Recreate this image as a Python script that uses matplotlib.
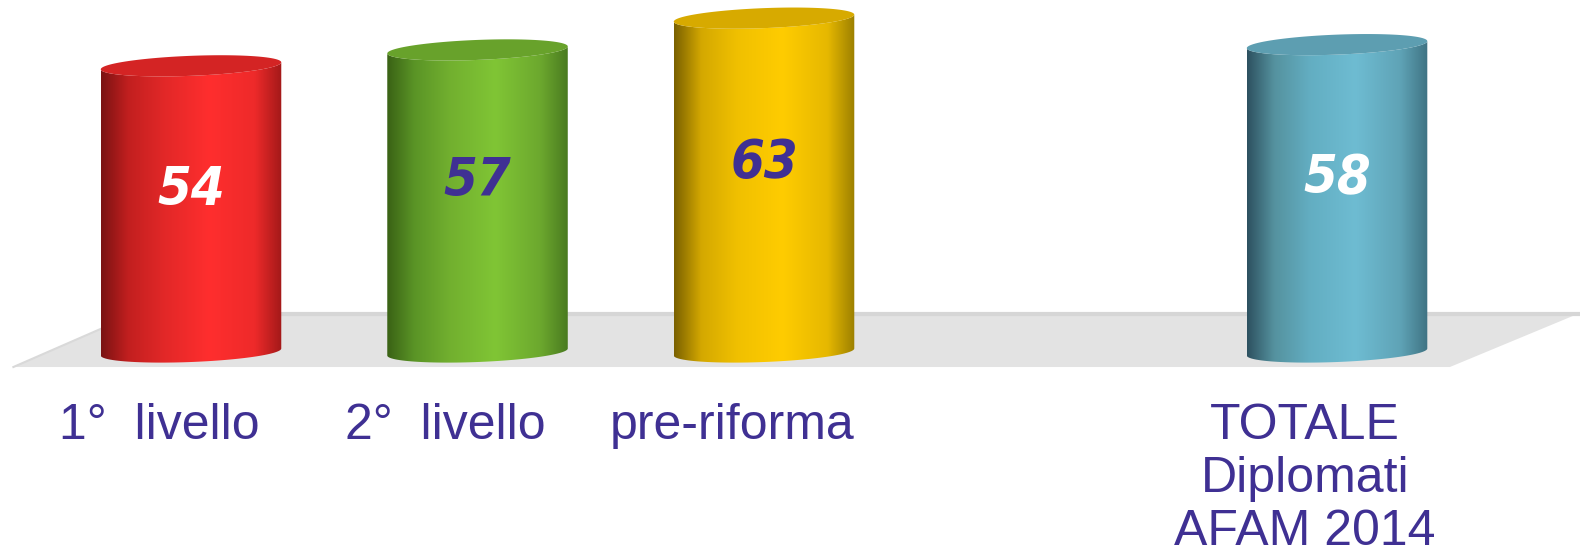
import numpy as np
import matplotlib
matplotlib.use("Agg")
import matplotlib.pyplot as plt
from matplotlib.patches import Polygon
from matplotlib.colors import LinearSegmentedColormap

# chart data
categories = ["1°  livello", "2°  livello", "pre-riforma", "TOTALE\nDiplomati\nAFAM 2014"]
values = [54, 57, 63, 58]
positions = [0, 1, 2, 4]

# colours: gradient stops across each cylinder (dark edge -> highlight -> dark edge)
body_stops = [
    ["#7a1313", "#c21f1f", "#e22828", "#ff2e2e", "#ee2a2a", "#a31919"],
    ["#3a6215", "#5a9426", "#72b02f", "#80c535", "#6ca82e", "#4a7b20"],
    ["#7a6100", "#d4a800", "#f0c000", "#ffcc00", "#e6b800", "#9c8000"],
    ["#2d5160", "#55929f", "#63aec2", "#6ebcd2", "#5fa3b6", "#3f7383"],
]
top_colors = ["#d42424", "#68a22b", "#d7aa00", "#5d9eb1"]
value_colors = ["white", "#3f3093", "#3f3093", "white"]
label_color = "#3f3093"

W_PX, H_PX = 1580, 556
fig = plt.figure(figsize=(W_PX / 100, H_PX / 100), dpi=100)
ax = fig.add_axes([0, 0, 1, 1])
ax.set_xlim(-0.6667, 4.848)
ax.set_ylim(-38.49, 66.42)
ax.axis("off")

# pixel -> data scale factors
x0, x1 = ax.get_xlim()
y0, y1 = ax.get_ylim()
sx = W_PX / (x1 - x0)
sy = H_PX / (y1 - y0)

bar_w = 0.63
half_px = bar_w * sx / 2
ell_b = 10.0      # ellipse semi-height in px
shear = -3.5 / half_px   # left side sits a bit lower than right

# floor (perspective platform)
floor = Polygon([(-0.62, -2.83), (4.394, -2.83), (4.848, 7.36), (-0.188, 7.36)],
                closed=True, facecolor="#e3e3e3", edgecolor="none", zorder=1)
ax.add_patch(floor)
ax.plot([-0.188, 4.848], [7.2, 7.2], color="#d6d6d6", lw=3, zorder=1.5)
ax.plot([-0.62, -0.188], [-2.83, 7.36], color="#d9d9d9", lw=1.5, zorder=1.5)


def ellipse_pts(cx, cy, t):
    dx = half_px * np.cos(t)
    dy = ell_b * np.sin(t) + shear * half_px * np.cos(t)
    return cx + dx / sx, cy - dy / sy


for pos, val, stops, tc in zip(positions, values, body_stops, top_colors):
    t_front_top = np.linspace(np.pi, 0, 60)
    t_front_bot = np.linspace(0, np.pi, 60)
    tx, ty = ellipse_pts(pos, val, t_front_top)
    bx, by = ellipse_pts(pos, 0, t_front_bot)
    xs = np.concatenate([tx, bx])
    ys = np.concatenate([ty, by])
    body = Polygon(np.column_stack([xs, ys]), closed=True, facecolor="none",
                   edgecolor="none", zorder=2)
    ax.add_patch(body)
    cmap = LinearSegmentedColormap.from_list("c", list(zip([0, 0.15, 0.35, 0.6, 0.85, 1.0], stops)))
    grad = np.linspace(0, 1, 256).reshape(1, -1)
    im = ax.imshow(grad, cmap=cmap, aspect="auto", zorder=2,
                   extent=[pos - bar_w / 2, pos + bar_w / 2, -4, val + 4])
    im.set_clip_path(body)

    # top cap
    t_all = np.linspace(0, 2 * np.pi, 120)
    cx_, cy_ = ellipse_pts(pos, val, t_all)
    ax.add_patch(Polygon(np.column_stack([cx_, cy_]), closed=True, facecolor=tc,
                         edgecolor="none", zorder=3))

    ax.set_xlim(x0, x1)
    ax.set_ylim(y0, y1)

# value labels inside cylinders
for pos, val, col in zip(positions, values, value_colors):
    ax.text(pos, val * 0.565, str(val), ha="center", va="center", color=col,
            fontsize=39, fontweight="bold", fontstyle="italic", fontstretch="condensed",
            family=["DejaVu Sans"], zorder=4)

# category labels below the floor
for pos, lab in zip(positions, categories):
    ax.text(pos - 0.112, -9.6, lab, ha="center", va="top", color=label_color,
            fontsize=36, family=["Liberation Sans", "DejaVu Sans"],
            linespacing=1.2, multialignment="center", zorder=4)

fig.savefig("out.png", dpi=100)
